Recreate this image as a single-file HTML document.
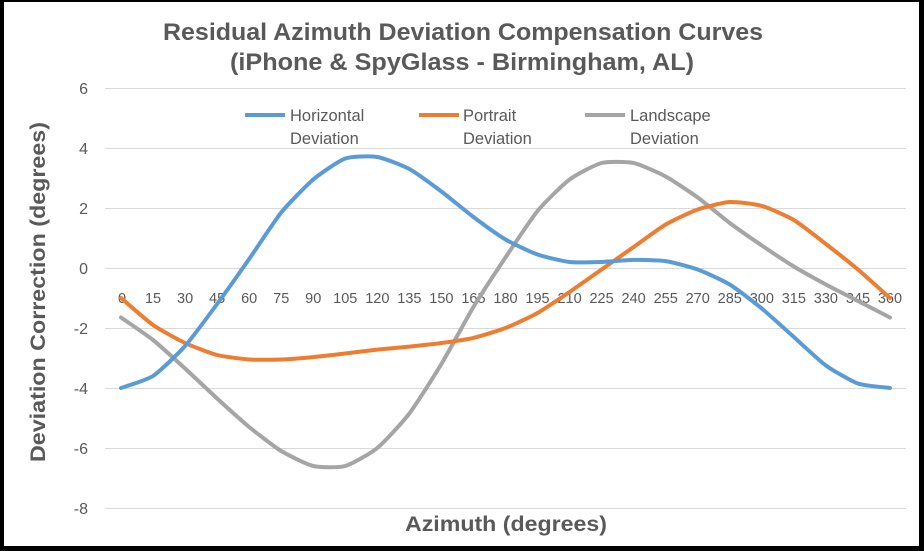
<!DOCTYPE html>
<html><head><style>
html,body{margin:0;padding:0;background:#fff}
svg{display:block}
text{font-family:"Liberation Sans",sans-serif}
</style></head><body>
<svg width="924" height="551" xmlns="http://www.w3.org/2000/svg">
<rect x="0" y="0" width="924" height="551" fill="#000"/>
<rect x="4" y="2" width="915" height="544" fill="#fff"/>
<text x="163" y="40" textLength="600" lengthAdjust="spacingAndGlyphs" font-size="24" font-weight="bold" fill="#595959">Residual Azimuth Deviation Compensation Curves</text>
<text x="230" y="70" textLength="464" lengthAdjust="spacingAndGlyphs" font-size="24" font-weight="bold" fill="#595959">(iPhone &amp; SpyGlass - Birmingham, AL)</text>
<g stroke="#d9d9d9" stroke-width="1">
<line x1="105" x2="906" y1="88.5" y2="88.5"/><line x1="105" x2="906" y1="148.5" y2="148.5"/>
<line x1="105" x2="906" y1="208.5" y2="208.5"/><line x1="105" x2="906" y1="268.5" y2="268.5"/>
<line x1="105" x2="906" y1="328.5" y2="328.5"/><line x1="105" x2="906" y1="388.5" y2="388.5"/>
<line x1="105" x2="906" y1="448.5" y2="448.5"/><line x1="105" x2="906" y1="508.5" y2="508.5"/>
</g>
<g font-size="16" fill="#595959" text-anchor="end">
<text x="88" y="94">6</text><text x="88" y="154">4</text><text x="88" y="214">2</text><text x="88" y="274">0</text>
<text x="88" y="334">-2</text><text x="88" y="394">-4</text><text x="88" y="454">-6</text><text x="88" y="514">-8</text>
</g>
<g id="xl" font-size="14.5" fill="#595959" text-anchor="middle"></g>
<text x="405" y="531" textLength="202" lengthAdjust="spacingAndGlyphs" font-size="21" font-weight="bold" fill="#595959">Azimuth (degrees)</text>
<text transform="translate(45,292) rotate(-90)" text-anchor="middle" textLength="340" lengthAdjust="spacingAndGlyphs" font-size="21" font-weight="bold" fill="#595959">Deviation Correction (degrees)</text>
<g id="lines" fill="none" stroke-width="4" stroke-linejoin="round" stroke-linecap="round"></g>
<g font-size="16.5" fill="#595959">
<line x1="245" x2="285" y1="115" y2="115" stroke="#5b9bd5" stroke-width="4"/>
<text x="290" y="121">Horizontal</text><text x="290" y="144">Deviation</text>
<line x1="419" x2="459" y1="115" y2="115" stroke="#ed7d31" stroke-width="4"/>
<text x="463" y="121">Portrait</text><text x="463" y="144">Deviation</text>
<line x1="585" x2="625" y1="115" y2="115" stroke="#a5a5a5" stroke-width="4"/>
<text x="630" y="121">Landscape</text><text x="630" y="144">Deviation</text>
</g>
</svg>
<script>
var ns="http://www.w3.org/2000/svg";
function X(i){return 121+i*32.04}
function Y(v){return 268-30*v}
var xl=document.getElementById("xl");
for(var i=0;i<=24;i++){var t=document.createElementNS(ns,"text");t.setAttribute("x",X(i)+(i==0?1:0));t.setAttribute("y",303);t.textContent=i*15;xl.appendChild(t);}
var D={
"#a5a5a5":[-1.65,-2.4,-3.35,-4.35,-5.3,-6.1,-6.6,-6.6,-6.0,-4.85,-3.2,-1.3,0.35,1.9,2.95,3.5,3.5,3.05,2.35,1.5,0.75,0.05,-0.55,-1.1,-1.65],
"#ed7d31":[-1,-1.9,-2.5,-2.9,-3.05,-3.05,-2.97,-2.85,-2.72,-2.62,-2.5,-2.33,-2.0,-1.5,-0.8,-0.05,0.7,1.45,1.95,2.2,2.07,1.6,0.8,-0.05,-1.0],
"#5b9bd5":[-4,-3.6,-2.6,-1.2,0.3,1.85,2.95,3.65,3.7,3.3,2.55,1.7,0.95,0.45,0.2,0.2,0.27,0.23,-0.05,-0.55,-1.35,-2.3,-3.25,-3.85,-4]};
var g=document.getElementById("lines");
for(var c in D){var a=D[c],p=[];for(var i=0;i<a.length;i++)p.push([X(i),Y(a[i])]);
var d="M"+p[0][0]+","+p[0][1],k=10;
for(var i=0;i<p.length-1;i++){var p0=p[Math.max(0,i-1)],p1=p[i],p2=p[i+1],p3=p[Math.min(p.length-1,i+2)];
d+=" C"+(p1[0]+(p2[0]-p0[0])/k)+","+(p1[1]+(p2[1]-p0[1])/k)+" "+(p2[0]-(p3[0]-p1[0])/k)+","+(p2[1]-(p3[1]-p1[1])/k)+" "+p2[0]+","+p2[1];}
var e=document.createElementNS(ns,"path");e.setAttribute("d",d);e.setAttribute("stroke",c);g.appendChild(e);}
</script>
</body></html>
